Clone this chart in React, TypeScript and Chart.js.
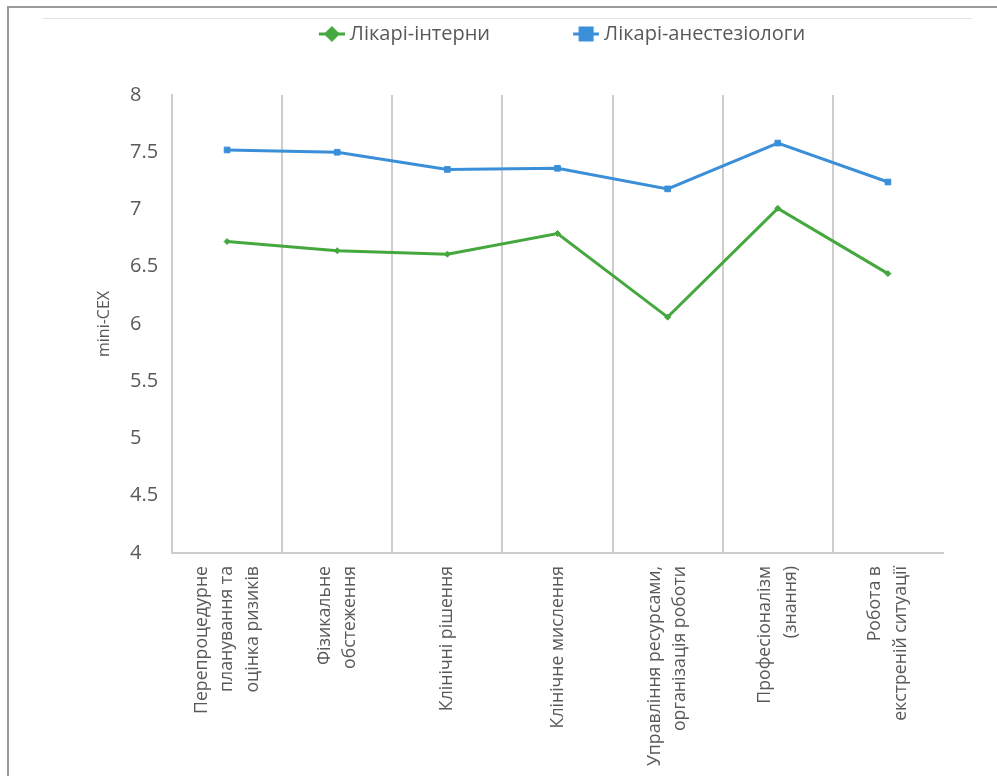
import React, { useEffect, useRef } from 'react';
import { Chart, registerables } from 'chart.js';

Chart.register(...registerables);

// ---- data ----
const categoryLines: string[][] = [
  ['Перепроцедурне', 'планування та', 'оцінка ризиків'],
  ['Фізикальне', 'обстеження'],
  ['Клінічні рішення'],
  ['Клінічне мислення'],
  ['Управління ресурсами,', 'організація роботи'],
  ['Професіоналізм', '(знання)'],
  ['Робота в', 'екстреній ситуації'],
];
const internists = [6.72, 6.64, 6.61, 6.79, 6.06, 7.01, 6.44];
const anesthesiologists = [7.52, 7.5, 7.35, 7.36, 7.18, 7.58, 7.24];
const seriesNames = ['Лікарі-інтерни', 'Лікарі-анестезіологи'];
const yMin = 4;
const yMax = 8;
const yStep = 0.5;
const yTitle = 'mini-CEX';

// ---- style ----
const GREEN = '#45a83f';
const BLUE = '#3a8fd8';
const GRID = '#cdcdcd';
const TEXT = '#595959';
const FONT = "'Open Sans', 'Noto Sans', sans-serif";
const LEGEND_BOX = 72;
const LEGEND_E = 5;
const X_FONT = 17.7;
const LINE_SLOT = 12.75;

// centre multi-line rotated labels: spread lines over 5 half-slots
function padLabel(lines: string[]): string[] {
  const out = ['', '', '', '', ''];
  if (lines.length === 1) out[2] = lines[0];
  else if (lines.length === 2) { out[1] = lines[0]; out[3] = lines[1]; }
  else { out[0] = lines[0]; out[2] = lines[1]; out[4] = lines[2]; }
  return out;
}

function makeIcon(kind: 'diamond' | 'square', color: string): HTMLCanvasElement {
  const W = LEGEND_BOX + 2 * LEGEND_E;
  const H = 20;
  const c = document.createElement('canvas');
  c.width = W;
  c.height = H;
  const g = c.getContext('2d')!;
  const cx = W - 13;
  const cy = H / 2;
  g.strokeStyle = color;
  g.lineWidth = 3;
  g.beginPath();
  g.moveTo(W - 26, cy);
  g.lineTo(W, cy);
  g.stroke();
  g.fillStyle = color;
  g.beginPath();
  if (kind === 'diamond') {
    g.moveTo(cx, cy - 8);
    g.lineTo(cx + 8, cy);
    g.lineTo(cx, cy + 8);
    g.lineTo(cx - 8, cy);
    g.closePath();
  } else {
    g.rect(cx - 7.5, cy - 7.5, 15, 15);
  }
  g.fill();
  return c;
}

export default function App() {
  const ref = useRef<HTMLCanvasElement | null>(null);

  useEffect(() => {
    if (!ref.current) return;
    const icons = [makeIcon('diamond', GREEN), makeIcon('square', BLUE)];
    const chart = new Chart(ref.current, {
      type: 'line',
      data: {
        labels: categoryLines.map(padLabel),
        datasets: [
          {
            label: seriesNames[0],
            data: internists,
            borderColor: GREEN,
            backgroundColor: GREEN,
            borderWidth: 3,
            tension: 0,
            pointStyle: 'rectRot',
            pointRadius: 3,
            pointBorderWidth: 1,
          },
          {
            label: seriesNames[1],
            data: anesthesiologists,
            borderColor: BLUE,
            backgroundColor: BLUE,
            borderWidth: 3,
            tension: 0,
            pointStyle: 'rect',
            pointRadius: 4,
            pointBorderWidth: 1,
          },
        ],
      },
      options: {
        responsive: false,
        animation: false,
        layout: { padding: { left: 130, right: 54, top: -8, bottom: 0 } },
        plugins: {
          legend: {
            position: 'top',
            weight: 3000,
            labels: {
              usePointStyle: true,
              pointStyleWidth: LEGEND_BOX,
              padding: 32,
              color: TEXT,
              font: { family: FONT, size: 20 },
              generateLabels: (ch: any) =>
                ch.data.datasets.map((ds: any, i: number) => ({
                  text: ds.label,
                  fillStyle: ds.borderColor,
                  strokeStyle: ds.borderColor,
                  lineWidth: 0,
                  pointStyle: icons[i],
                  hidden: false,
                  datasetIndex: i,
                  fontColor: TEXT,
                })),
            },
          },
          title: {
            display: true,
            text: '',
            font: { size: 10 },
            padding: { top: 0, bottom: 29 },
          },
          tooltip: { enabled: false },
        },
        scales: {
          x: {
            type: 'category',
            offset: true,
            afterFit: (s: any) => { s.height = 223; },
            grid: {
              offset: true,
              drawTicks: false,
              lineWidth: 2,
              color: (ctx: any) => (ctx.index === undefined ? 'rgba(0,0,0,0)' : GRID),
            },
            border: { display: true, color: GRID, width: 2 },
            ticks: {
              autoSkip: false,
              minRotation: 90,
              maxRotation: 90,
              padding: 13,
              labelOffset: -2 * LINE_SLOT,
              color: TEXT,
              font: { family: FONT, size: X_FONT, lineHeight: LINE_SLOT / X_FONT },
            },
          },
          y: {
            min: yMin,
            max: yMax,
            afterFit: (s: any) => { s.width = 42; },
            grid: { display: false },
            border: { display: true, color: GRID, width: 2 },
            ticks: {
              stepSize: yStep,
              crossAlign: 'far',
              color: TEXT,
              font: { family: FONT, size: 20 },
              callback: (v: any) => String(+v),
            },
            title: {
              display: true,
              text: yTitle,
              color: TEXT,
              font: { family: FONT, size: 16 },
              padding: { top: -35, bottom: 0 },
            },
          },
        },
      },
    } as any);
    return () => chart.destroy();
  }, []);

  return (
    <div style={{ position: 'absolute', left: 0, top: 0, width: 997, height: 776, background: '#fff', overflow: 'hidden' }}>
      <div style={{ position: 'absolute', left: 7, top: 6, width: 990, height: 2, background: '#9a9a9a' }} />
      <div style={{ position: 'absolute', left: 7, top: 6, width: 2, height: 770, background: '#9a9a9a' }} />
      <div style={{ position: 'absolute', left: 43, top: 18, width: 929, height: 1, background: '#e2e2e2' }} />
      <canvas ref={ref} width={997} height={776} style={{ position: 'absolute', left: 0, top: 0, display: 'block' }} />
    </div>
  );
}
